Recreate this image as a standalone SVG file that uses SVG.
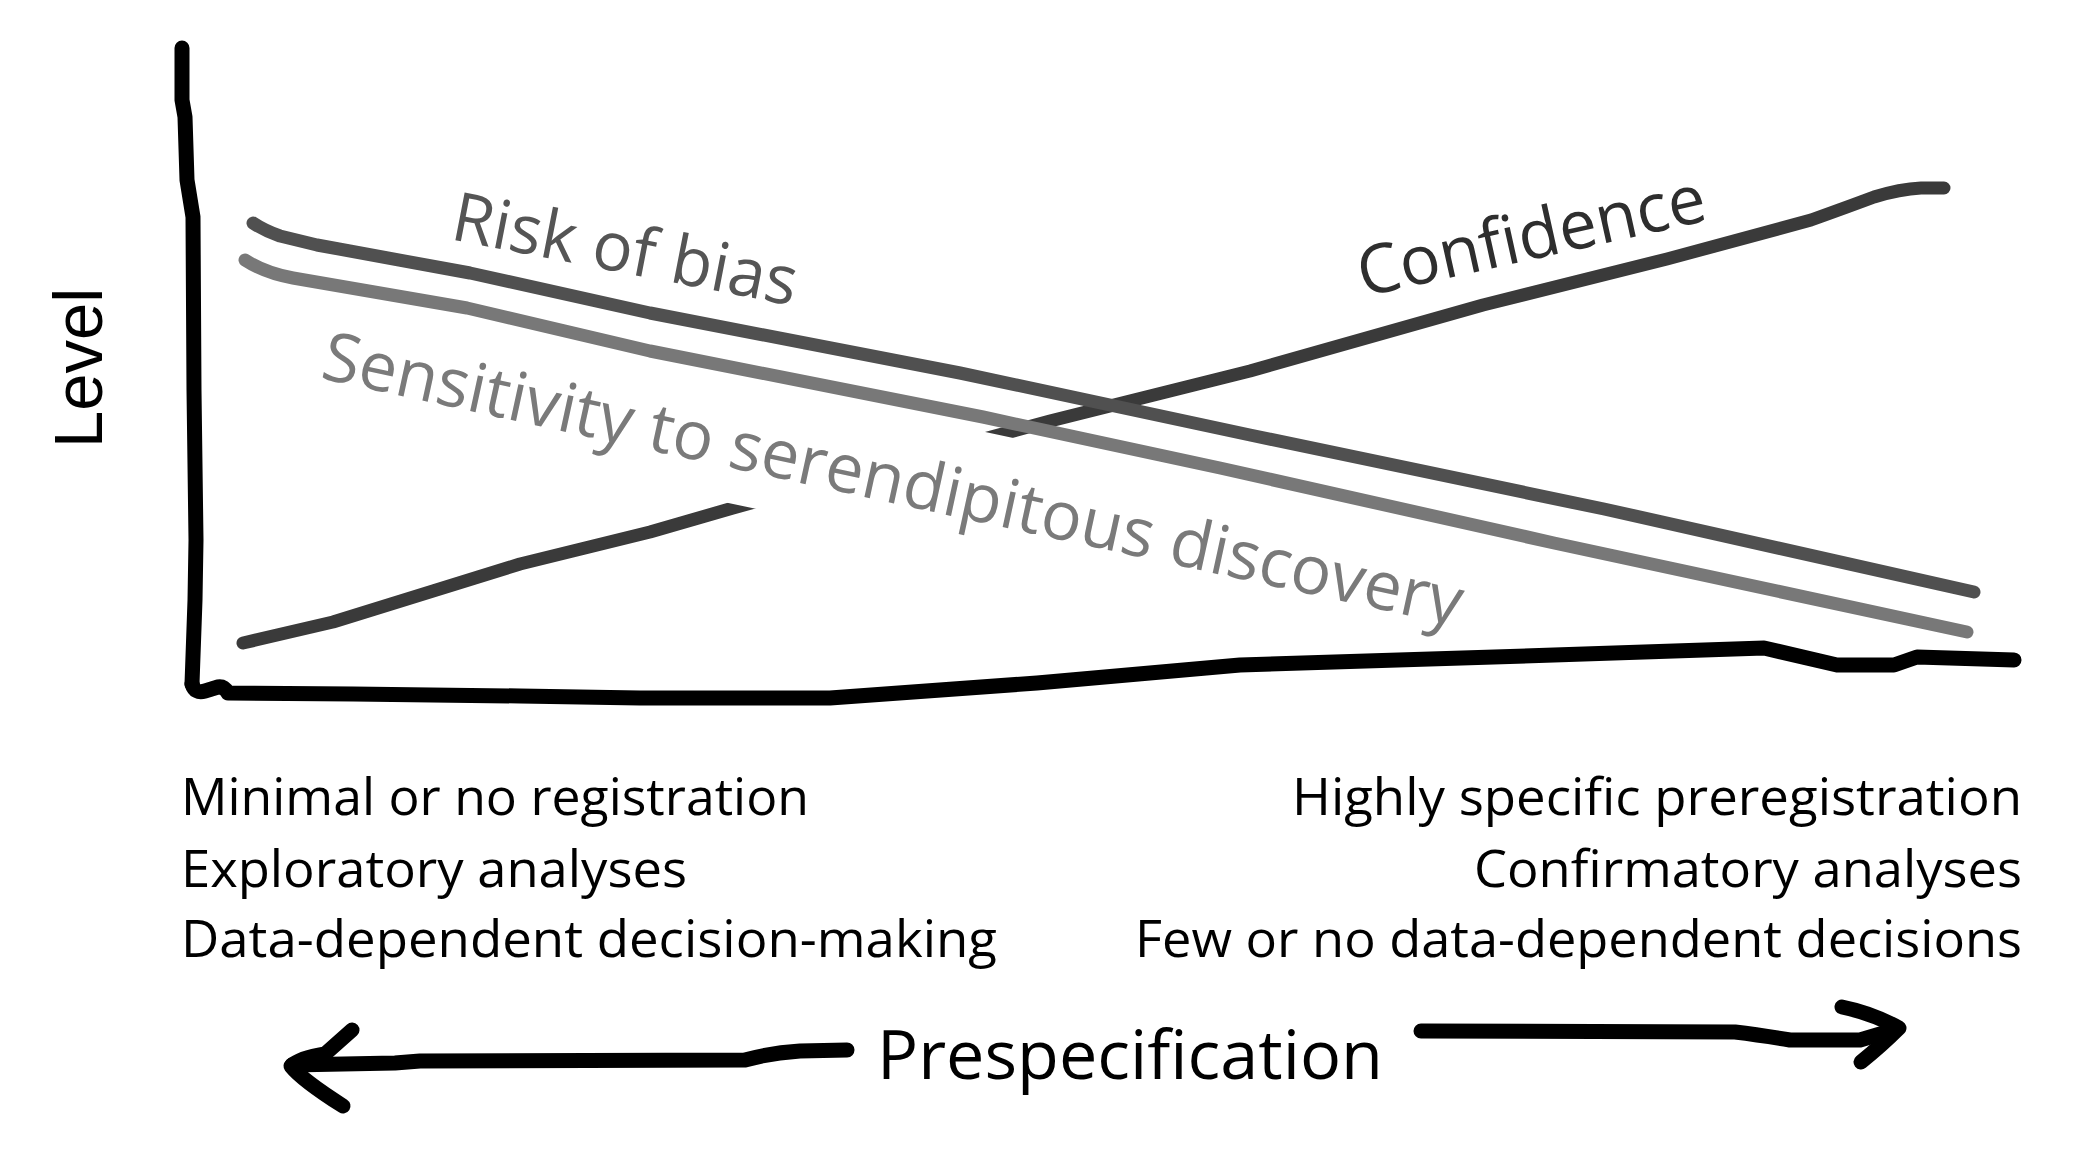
<svg xmlns="http://www.w3.org/2000/svg" width="2074" height="1159" viewBox="0 0 2074 1159">
  <style>
    .axis { fill: none; stroke: #000; stroke-width: 15; stroke-linecap: round; stroke-linejoin: round; }
    .curve { fill: none; stroke-width: 13; stroke-linecap: round; stroke-linejoin: round; }
    .arrow { fill: none; stroke: #000; stroke-width: 15; stroke-linecap: round; stroke-linejoin: round; }
    .clabel { font-family: "Open Sans", "Noto Sans", sans-serif; font-size: 68px; }
    .desc { font-family: "Open Sans", "Noto Sans", sans-serif; font-size: 52px; fill: #000; }
  </style>
  <defs>
    <clipPath id="gap">
      <path clip-rule="evenodd" d="M0,0H2074V1159H0Z M700,371 L1060,448 L1060,573 L700,497Z"/>
    </clipPath>
  </defs>
  <rect width="2074" height="1159" fill="#fff"/>

  <g id="curve-confidence">
    <path class="curve" stroke="#3a3a3a" clip-path="url(#gap)" d="M243,643 L333,622 L433,591 L520,564 L650,532 L733,508 L870,470 L1050,421 L1250,371 L1483,305 L1667,259 L1811,220 Q1850,206 1874,197 Q1900,189 1921,188 L1944,188"/>
    <text class="clabel" fill="#2e2e2e" transform="translate(1363,297) rotate(-12.5)" textLength="355" lengthAdjust="spacingAndGlyphs">Confidence</text>
  </g>

  <g id="curve-risk">
    <path class="curve" stroke="#505050" d="M253,223 Q265,231 280,236 L317,245 L470,273 L650,313 L960,373 L1250,435 L1604,509 L1974,592"/>
    <text class="clabel" fill="#555555" transform="translate(449,239) rotate(11)" textLength="350" lengthAdjust="spacingAndGlyphs">Risk of bias</text>
  </g>

  <g id="curve-sensitivity">
    <path class="curve" stroke="#787878" d="M245,260 Q265,273 293,278 L467,308 L650,351 L983,417 L1220,468 L1554,543 L1967,632"/>
    <text class="clabel" fill="#7a7a7a" transform="translate(319,378) rotate(12.3)" textLength="1165" lengthAdjust="spacingAndGlyphs">Sensitivity to serendipitous discovery</text>
  </g>

  <g id="y-axis">
    <path class="axis" d="M182,48 L182,100 L185,117 L187,180 L193,217 L194,390 L196,540 L195,600 L192,684"/>
    <text font-family="'Liberation Sans', Arial, sans-serif" font-size="68" fill="#000" transform="translate(102,448) rotate(-90)" textLength="160" lengthAdjust="spacingAndGlyphs">Level</text>
  </g>

  <g id="x-axis">
    <path class="axis" d="M192,684 Q195,694 205,691 L218,687 Q224,686 228,693 L353,694 L520,696 L640,698 L830,698 L1037,683 L1240,665 L1554,655 L1764,648 L1837,665 L1894,665 L1917,657 L2014,660"/>
  </g>

  <g id="left-descriptions">
    <text class="desc" x="181" y="815" textLength="628" lengthAdjust="spacingAndGlyphs">Minimal or no registration</text>
    <text class="desc" x="181" y="887" textLength="506" lengthAdjust="spacingAndGlyphs">Exploratory analyses</text>
    <text class="desc" x="181" y="957" textLength="816" lengthAdjust="spacingAndGlyphs">Data-dependent decision-making</text>
  </g>

  <g id="right-descriptions">
    <text class="desc" x="1292" y="815" textLength="730" lengthAdjust="spacingAndGlyphs">Highly specific preregistration</text>
    <text class="desc" x="1474" y="887" textLength="548" lengthAdjust="spacingAndGlyphs">Confirmatory analyses</text>
    <text class="desc" x="1135" y="957" textLength="887" lengthAdjust="spacingAndGlyphs">Few or no data-dependent decisions</text>
  </g>

  <g id="prespecification">
    <text font-family="'Open Sans', 'Noto Sans', sans-serif" font-size="68" fill="#000" x="877" y="1079" textLength="506" lengthAdjust="spacingAndGlyphs">Prespecification</text>
  </g>

  <g id="connectors">
    <path class="arrow" d="M847,1050 L800,1051 Q770,1053 745,1060 L420,1061 L395,1063 L292,1065"/>
    <path class="arrow" d="M352,1030 L325,1054 Q300,1058 291,1066 Q302,1080 343,1106"/>
    <path class="arrow" d="M1421,1031 L1735,1032 Q1760,1035 1790,1040 L1860,1040 L1897,1029"/>
    <path class="arrow" d="M1842,1007 Q1872,1013 1899,1028 Q1882,1045 1861,1062"/>
  </g>
</svg>
